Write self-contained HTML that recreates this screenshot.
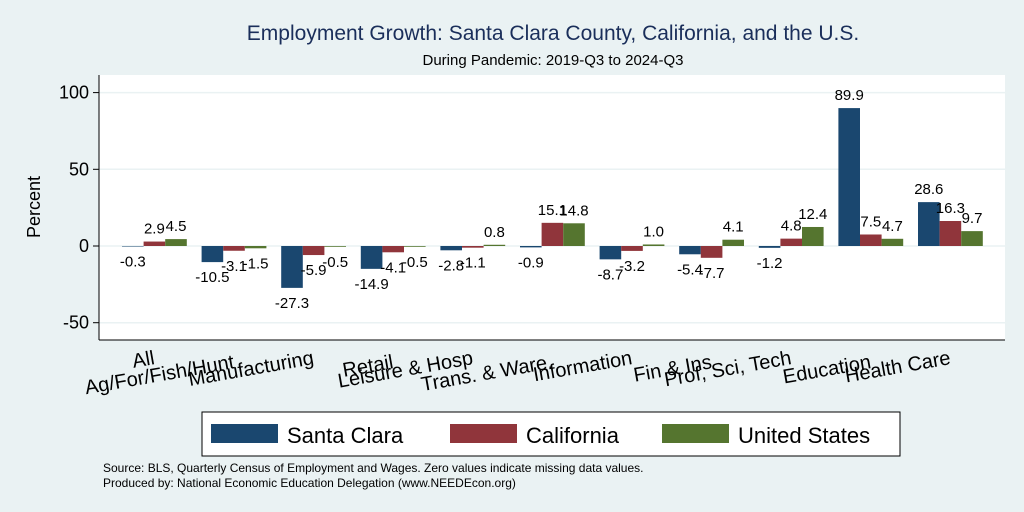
<!DOCTYPE html>
<html><head><meta charset="utf-8"><style>
body{margin:0;background:#eaf2f3;}
svg{display:block;font-family:"Liberation Sans",sans-serif;}
</style></head><body>
<svg id="chart" width="1024" height="512">
<rect x="0" y="0" width="1024" height="512" fill="#eaf2f3"/>
<text x="553" y="40" font-size="21" fill="#1a2e5a" text-anchor="middle">Employment Growth: Santa Clara County, California, and the U.S.</text>
<text x="553" y="65" font-size="15" fill="#000" text-anchor="middle">During Pandemic: 2019-Q3 to 2024-Q3</text>
<rect x="99" y="75" width="906" height="265" fill="#fff"/>
<g id="grid"></g>
<g id="bars"></g>
<g id="labels"></g>
<line x1="99" y1="75" x2="99" y2="340" stroke="#000" stroke-width="1"/>
<line x1="99" y1="340" x2="1005" y2="340" stroke="#000" stroke-width="1"/>
<text transform="translate(40,207) rotate(-90)" font-size="18" text-anchor="middle">Percent</text>
<g>
<rect x="202" y="412" width="698" height="44" fill="#fff" stroke="#000"/>
<g><rect x="211" y="424" width="67" height="19" fill="#1a476f"/><text x="287" y="443" font-size="22">Santa Clara</text></g>
<g><rect x="450" y="424" width="67" height="19" fill="#90353b"/><text x="526" y="443" font-size="22">California</text></g>
<g><rect x="662" y="424" width="67" height="19" fill="#55752f"/><text x="738" y="443" font-size="22">United States</text></g>
</g>
<text x="103" y="472" font-size="12">Source: BLS, Quarterly Census of Employment and Wages. Zero values indicate missing data values.</text>
<text x="103" y="487" font-size="12">Produced by: National Economic Education Delegation (www.NEEDEcon.org)</text>
</svg>
<script>
const categories=["All","Ag/For/Fish/Hunt","Manufacturing","Retail","Leisure & Hosp","Trans. & Ware.","Information","Fin & Ins","Prof, Sci, Tech","Education","Health Care"];
const santaClara=[-0.3,-10.5,-27.3,-14.9,-2.8,-0.9,-8.7,-5.4,-1.2,89.9,28.6];
const california=[2.9,-3.1,-5.9,-4.1,-1.1,15.1,-3.2,-7.7,4.8,7.5,16.3];
const unitedStates=[4.5,-1.5,-0.5,-0.5,0.8,14.8,1.0,4.1,12.4,4.7,9.7];
const yTicks=[-50,0,50,100];
const seriesColors=["#1a476f","#90353b","#55752f"];
const seriesNames=["santa-clara","california","united-states"];
const NS="http://www.w3.org/2000/svg";
const y=v=>246-v*1.534;
const groupX=i=>122+i*79.6;
const bw=21.6;
function mk(tag,attrs,parent){const e=document.createElementNS(NS,tag);for(const k in attrs)e.setAttribute(k,attrs[k]);parent.appendChild(e);return e;}
const grid=document.getElementById('grid'),bars=document.getElementById('bars'),labels=document.getElementById('labels');
yTicks.forEach(t=>{
  const l=mk('line',{x1:99,x2:1005,y1:y(t),y2:y(t),stroke:'#eaf2f3','stroke-width':1.5},grid);
  
  
  mk('line',{x1:93,x2:99,y1:y(t),y2:y(t),stroke:'#000'},grid);
  const tx=mk('text',{x:89,y:y(t)+6,'font-size':18,'text-anchor':'end'},grid);
  tx.textContent=t;
  
  
});
[santaClara,california,unitedStates].forEach((s,k)=>{
  s.forEach((v,i)=>{
    const x=groupX(i)+k*bw;
    const r=mk('rect',{x:x,y:Math.min(y(v),y(0)),width:bw,height:Math.max(Math.abs(y(v)-y(0)),0.5),fill:seriesColors[k]},bars);
    
    
    const ly=v>=0?y(v)-8:y(v)+20;
    const t=mk('text',{x:x+bw/2,y:ly,'font-size':15,'text-anchor':'middle'},labels);
    t.textContent=v.toFixed(1);
    
    
  });
});
categories.forEach((c,i)=>{
  const cx=groupX(i)+bw*1.5+1;
  const cy=i%2===0?364:368;
  const t=mk('text',{x:cx,y:cy,'font-size':20,'text-anchor':'end',transform:`rotate(-10 ${cx} ${cy})`},labels);
  t.textContent=c;
  
  
});
</script>
</body></html>
